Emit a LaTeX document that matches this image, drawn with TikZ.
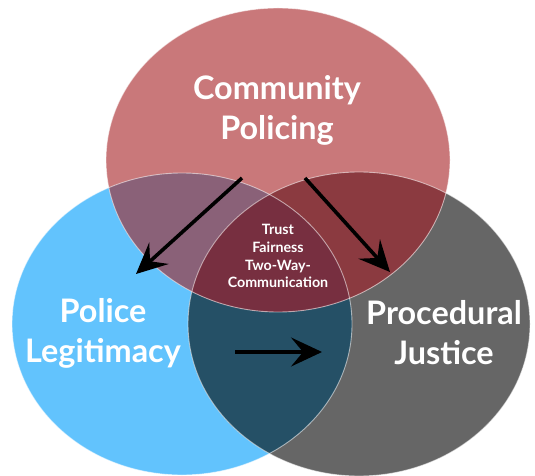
\documentclass[tikz,border=0pt]{standalone}
\usepackage{fontspec}
\setmainfont{Lato}
\usetikzlibrary{arrows.meta}
\definecolor{cpred}{RGB}{201,120,122}
\definecolor{plblue}{RGB}{98,195,253}
\definecolor{pjgray}{RGB}{102,102,102}
\definecolor{redblue}{RGB}{138,97,120}
\definecolor{redgray}{RGB}{139,58,64}
\definecolor{bluegray}{RGB}{37,80,102}
\definecolor{allthree}{RGB}{119,47,64}
\tikzset{
  rim/.style={draw=white, draw opacity=0.55, line width=0.9},
  biglabel/.style={text=white, font=\fontsize{32.5}{40}\selectfont\bfseries, align=center},
  smalllabel/.style={text=white, font=\fontsize{14.3}{18}\selectfont\bfseries, align=center},
  flow/.style={line width=3.6, -{Stealth[length=31, width=29, inset=12]}},
}
\begin{document}
\begin{tikzpicture}[x=1bp, y=-1bp]
\useasboundingbox (0,0) rectangle (535,476);
% circle centres
\coordinate (cpc) at (278,160);
\coordinate (plc) at (182,324);
\coordinate (pjc) at (359,324);
\def\cpshape{(cpc) ellipse [x radius=172, y radius=152]}
\def\plshape{(plc) ellipse [x radius=170, y radius=151]}
\def\pjshape{(pjc) ellipse [x radius=171, y radius=152]}
% plain fills
\fill[plblue] \plshape;
\fill[pjgray] \pjshape;
\fill[cpred] \cpshape;
% pairwise overlaps
\begin{scope}
  \clip \plshape; \fill[bluegray] \pjshape;
\end{scope}
\begin{scope}
  \clip \cpshape; \fill[redblue] \plshape;
\end{scope}
\begin{scope}
  \clip \cpshape; \fill[redgray] \pjshape;
\end{scope}
\begin{scope}
  \clip \cpshape; \clip \plshape; \fill[allthree] \pjshape;
\end{scope}
% rims
\path[rim] \plshape;
\path[rim] \pjshape;
\path[rim] \cpshape;
% labels
\node[biglabel] (cp) at (277,110) {Community\\Policing};
\node[biglabel] (pl) at (103,333) {Police\\Legitimacy};
\node[biglabel] (pj) at (444,333) {Procedural\\Justice};
\node[smalllabel] (core) at (278,256) {Trust\\Fairness\\Two-Way-\\Communication};
% arrows
\coordinate (a1s) at (242,178);
\coordinate (a1e) at (136,274);
\coordinate (a2s) at (305,178);
\coordinate (a2e) at (390,272);
\coordinate (a3s) at (235,352);
\coordinate (a3e) at (322,352);
\draw[flow] (a1s) -- (a1e);
\draw[flow] (a2s) -- (a2e);
\draw[flow] (a3s) -- (a3e);
\end{tikzpicture}
\end{document}
